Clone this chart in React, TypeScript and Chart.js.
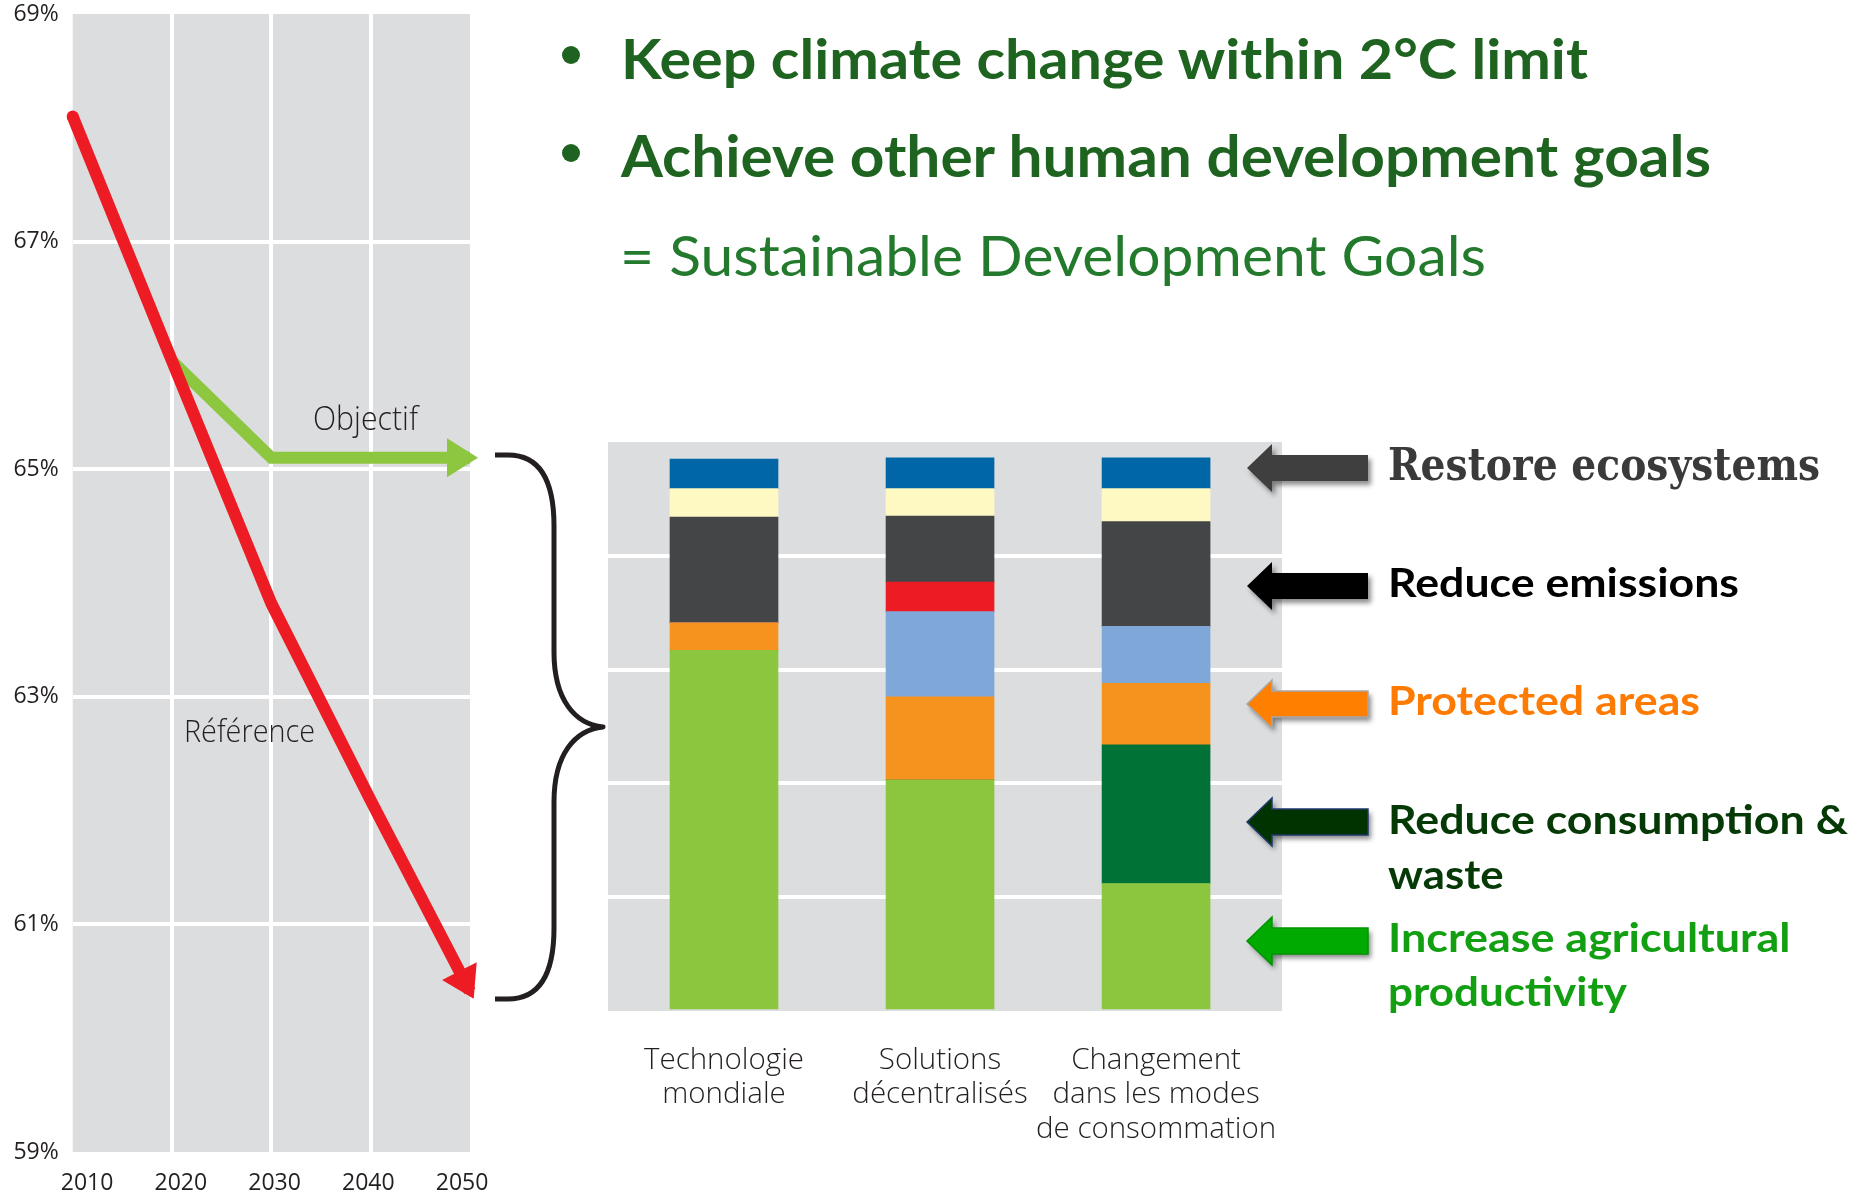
import React, { useEffect, useLayoutEffect, useRef } from 'react';
import { Chart, registerables } from 'chart.js';

Chart.register(...registerables);

// ---------- Left line chart data ----------
const years = [2010, 2020, 2030, 2040, 2050];
const referenceShare = [68.1, 65.95, 63.82, 62.09, 60.41];
const objectifShare: (number | null)[] = [null, 65.95, 65.1, 65.1, 65.1];
const lineYMin = 59;
const lineYMax = 69;
const lineYStep = 2;
const lineSeriesNames = ['Référence', 'Objectif'];
// the printed year labels sit on a slightly wider scale than the plotted grid
const yearLabelMin = 2008.47;
const yearLabelMax = 2050.85;

// ---------- Right stacked bar data ----------
const scenarioLabels = [
  ['Technologie', 'mondiale'],
  ['Solutions', 'décentralisés'],
  ['Changement', 'dans les modes', 'de consommation'],
];
const agriculturalProductivity = [3.17, 2.03, 1.12];
const consumptionWaste = [0, 0, 1.22];
const protectedAreas = [0.24, 0.73, 0.54];
const lightBlueSegment = [0, 0.75, 0.5];
const redSegment = [0, 0.26, 0];
const emissionsSegment = [0.93, 0.58, 0.92];
const creamSegment = [0.25, 0.24, 0.29];
const restoreEcosystems = [0.26, 0.27, 0.27];
const barYMax = 5;

const RED = '#ED1C24';
const GREEN = '#8DC63F';
const BG = '#DCDDDF';
const TICK = '#231F20';
const OPEN = "'Open Sans', 'Noto Sans', sans-serif";
const LATO = "Lato, 'Open Sans', sans-serif";
const HEAD = '#1E6420';
const HEAD2 = '#237A2D';

const barSeries = [
  { label: 'Increase agricultural productivity', values: agriculturalProductivity, color: '#8CC63F' },
  { label: 'Reduce consumption & waste', values: consumptionWaste, color: '#007236' },
  { label: 'Protected areas', values: protectedAreas, color: '#F6921E' },
  { label: 'Light blue', values: lightBlueSegment, color: '#7FA7D7' },
  { label: 'Red', values: redSegment, color: '#ED1C24' },
  { label: 'Reduce emissions', values: emissionsSegment, color: '#444547' },
  { label: 'Cream', values: creamSegment, color: '#FEF9C3' },
  { label: 'Restore ecosystems', values: restoreEcosystems, color: '#0066A6' },
];

type TextSpec = {
  text: string; x: number; baseline: number; cap: number; width: number;
  family: string; weight: number; color: string;
};

const texts: TextSpec[] = [
  { text: 'Keep climate change within 2°C limit', x: 621, baseline: 79.3, cap: 41, width: 967, family: LATO, weight: 700, color: HEAD },
  { text: 'Achieve other human development goals', x: 620.5, baseline: 176.7, cap: 41.5, width: 1090, family: LATO, weight: 700, color: HEAD },
  { text: '= Sustainable Development Goals', x: 620, baseline: 276, cap: 41, width: 866, family: LATO, weight: 400, color: HEAD2 },
  { text: lineSeriesNames[1], x: 313, baseline: 430, cap: 23, width: 105, family: OPEN, weight: 300, color: TICK },
  { text: lineSeriesNames[0], x: 184, baseline: 741.7, cap: 22.4, width: 131, family: OPEN, weight: 300, color: TICK },
  { text: 'Restore ecosystems', x: 1388, baseline: 480, cap: 32, width: 432, family: "'DejaVu Serif', serif", weight: 700, color: '#3A3A3A' },
  { text: 'Reduce emissions', x: 1388, baseline: 597, cap: 28.7, width: 351, family: LATO, weight: 700, color: '#000000' },
  { text: 'Protected areas', x: 1388, baseline: 715, cap: 28.7, width: 312, family: LATO, weight: 700, color: '#FF7A00' },
  { text: 'Reduce consumption &', x: 1388, baseline: 833.7, cap: 28.7, width: 460, family: LATO, weight: 700, color: '#053A07' },
  { text: 'waste', x: 1388, baseline: 889, cap: 28.7, width: 115.6, family: LATO, weight: 700, color: '#053A07' },
  { text: 'Increase agricultural', x: 1388, baseline: 952, cap: 28.7, width: 402.5, family: LATO, weight: 700, color: '#12A012' },
  { text: 'productivity', x: 1388, baseline: 1006, cap: 28.7, width: 239, family: LATO, weight: 700, color: '#12A012' },
];

const capCache: Record<string, number> = {};
function capRatio(family: string, weight: number): number {
  const key = weight + '|' + family;
  if (capCache[key]) return capCache[key];
  const c = document.createElement('canvas').getContext('2d')!;
  c.font = `${weight} 100px ${family}`;
  const m = c.measureText('H');
  const r = m.actualBoundingBoxAscent / 100 || 0.72;
  capCache[key] = r;
  return r;
}

function FitText({ spec }: { spec: TextSpec }) {
  const boxRef = useRef<HTMLDivElement>(null);
  const textRef = useRef<HTMLSpanElement>(null);
  const probeRef = useRef<HTMLSpanElement>(null);
  useLayoutEffect(() => {
    const box = boxRef.current!;
    const t = textRef.current!;
    const p = probeRef.current!;
    const size = spec.cap / capRatio(spec.family, spec.weight);
    box.style.fontSize = size + 'px';
    box.style.transform = 'none';
    const w = t.getBoundingClientRect().width;
    const b = p.offsetTop;
    box.style.top = spec.baseline - b + 'px';
    box.style.transform = `scaleX(${spec.width / w})`;
  }, [spec]);
  return (
    <div
      ref={boxRef}
      style={{
        position: 'absolute', left: spec.x, top: 0, whiteSpace: 'nowrap', lineHeight: 1.2,
        fontFamily: spec.family, fontWeight: spec.weight, color: spec.color, transformOrigin: '0 0',
      }}
    >
      <span ref={textRef}>{spec.text}</span>
      <span ref={probeRef} style={{ display: 'inline-block', width: 0, height: 0, verticalAlign: 'baseline' }} />
    </div>
  );
}

const chartBgPlugin = {
  id: 'chartBg',
  beforeDraw(chart: any) {
    const { ctx, chartArea } = chart;
    ctx.save();
    ctx.fillStyle = BG;
    ctx.fillRect(chartArea.left, chartArea.top, chartArea.right - chartArea.left, chartArea.bottom - chartArea.top);
    ctx.restore();
  },
};

const arrowHeadPlugin = {
  id: 'arrowHeads',
  afterDatasetsDraw(chart: any) {
    const ctx = chart.ctx;
    chart.data.datasets.forEach((ds: any, i: number) => {
      const pts = chart.getDatasetMeta(i).data;
      if (pts.length < 2) return;
      const a = pts[pts.length - 2];
      const b = pts[pts.length - 1];
      const dx = b.x - a.x;
      const dy = b.y - a.y;
      const len = Math.hypot(dx, dy);
      const ux = dx / len;
      const uy = dy / len;
      const tipX = b.x + ux * 8;
      const tipY = b.y + uy * 8;
      const L = 31;
      const W = 19.5;
      const bx = tipX - ux * L;
      const by = tipY - uy * L;
      ctx.save();
      ctx.fillStyle = ds.borderColor;
      ctx.beginPath();
      ctx.moveTo(tipX, tipY);
      ctx.lineTo(bx - uy * W, by + ux * W);
      ctx.lineTo(bx + uy * W, by - ux * W);
      ctx.closePath();
      ctx.fill();
      ctx.restore();
    });
  },
};

function edgeGrid(min: number, max: number) {
  return (ctx: any) => {
    const v = ctx.tick ? ctx.tick.value : null;
    return v === min || v === max ? 'rgba(0,0,0,0)' : '#FFFFFF';
  };
}

function lineConfig(): any {
  return {
    type: 'line',
    data: {
      datasets: [
        {
          label: lineSeriesNames[0],
          data: years.map((x, i) => ({ x, y: referenceShare[i] })),
          borderColor: RED,
          backgroundColor: RED,
          borderWidth: 12,
          borderCapStyle: 'butt',
          borderJoinStyle: 'round',
          tension: 0,
          pointRadius: (c: any) => (c.dataIndex === 0 ? 6 : 0),
          pointBorderWidth: 0,
          pointBackgroundColor: RED,
          pointHoverRadius: 0,
          clip: false,
        },
        {
          label: lineSeriesNames[1],
          data: years
            .map((x, i) => ({ x, y: objectifShare[i] }))
            .filter((p) => p.y !== null),
          borderColor: GREEN,
          backgroundColor: GREEN,
          borderWidth: 12,
          borderCapStyle: 'butt',
          borderJoinStyle: 'miter',
          tension: 0,
          pointRadius: 0,
          pointHoverRadius: 0,
          clip: false,
        },
      ],
    },
    options: {
      responsive: false,
      maintainAspectRatio: false,
      animation: false,
      devicePixelRatio: 1,
      events: [],
      layout: { padding: { left: 0, top: 14, right: 50, bottom: 0 } },
      plugins: { legend: { display: false }, tooltip: { enabled: false }, title: { display: false } },
      scales: {
        x: {
          type: 'linear',
          position: 'bottom',
          min: years[0],
          max: years[years.length - 1],
          offset: false,
          afterFit: (s: any) => { s.height = 0; s.paddingLeft = 0; s.paddingRight = 0; },
          border: { display: false },
          grid: { color: edgeGrid(years[0], years[years.length - 1]), lineWidth: 4, drawTicks: false },
          ticks: { stepSize: 10, display: false },
        },
        xYears: {
          type: 'linear',
          position: 'bottom',
          min: yearLabelMin,
          max: yearLabelMax,
          offset: false,
          afterBuildTicks: (s: any) => { s.ticks = years.map((v) => ({ value: v })); },
          afterFit: (s: any) => { s.height = 43; s.paddingLeft = 0; s.paddingRight = 0; },
          border: { display: false },
          grid: { display: false, drawTicks: false },
          ticks: {
            callback: (v: any) => String(v),
            padding: 18,
            maxRotation: 0,
            autoSkip: false,
            color: TICK,
            font: { family: OPEN, size: 23, weight: 400 },
          },
        },
        y: {
          type: 'linear',
          min: lineYMin,
          max: lineYMax,
          afterFit: (s: any) => { s.width = 72.7; s.paddingTop = 0; s.paddingBottom = 0; },
          border: { display: false },
          grid: { color: edgeGrid(lineYMin, lineYMax), lineWidth: 4, drawTicks: false },
          ticks: {
            stepSize: lineYStep,
            callback: (v: any) => v + '%',
            padding: 14,
            labelOffset: 0,
            color: TICK,
            font: { family: OPEN, size: 23, weight: 400 },
          },
        },
      },
    },
    plugins: [chartBgPlugin, arrowHeadPlugin],
  };
}

function barConfig(): any {
  return {
    type: 'bar',
    data: {
      datasets: barSeries.map((s) => ({
        label: s.label,
        data: s.values.map((y, i) => ({ x: i, y })),
        backgroundColor: s.color,
        borderWidth: 0,
        barThickness: 108,
      })),
    },
    options: {
      responsive: false,
      maintainAspectRatio: false,
      animation: false,
      devicePixelRatio: 1,
      events: [],
      layout: { padding: { left: 48, top: 42, right: 38, bottom: 0 } },
      plugins: { legend: { display: false }, tooltip: { enabled: false }, title: { display: false } },
      scales: {
        x: {
          type: 'linear',
          stacked: true,
          offset: false,
          min: -0.537,
          max: 2.583,
          afterFit: (s: any) => { s.height = 169; s.paddingLeft = 0; s.paddingRight = 0; },
          afterBuildTicks: (s: any) => { s.ticks = scenarioLabels.map((_, i) => ({ value: i })); },
          border: { display: false },
          grid: { display: false, drawTicks: false },
          ticks: {
            callback: (v: any) => scenarioLabels[Math.round(v)] || '',
            padding: 32.5,
            maxRotation: 0,
            minRotation: 0,
            autoSkip: false,
            color: TICK,
            font: { family: OPEN, size: 29.5, weight: 300, lineHeight: 1.163 },
          },
        },
        y: {
          type: 'linear',
          stacked: true,
          min: 0,
          max: barYMax,
          afterFit: (s: any) => { s.width = 0; s.paddingTop = 0; s.paddingBottom = 0; },
          border: { display: false },
          grid: { color: edgeGrid(0, barYMax), lineWidth: 4, drawTicks: false },
          ticks: { display: false, stepSize: 1 },
        },
      },
    },
    plugins: [chartBgPlugin],
  };
}

const goalArrows = [
  { cy: 468, fill: '#3F3F3F', stroke: null },
  { cy: 586, fill: '#000000', stroke: null },
  { cy: 704, fill: '#FF7F00', stroke: '#A8A8A8' },
  { cy: 822, fill: '#003300', stroke: '#1F3A6E' },
  { cy: 941, fill: '#00AA00', stroke: '#009400' },
];

function drawOverlay(ctx: CanvasRenderingContext2D) {
  ctx.clearRect(0, 0, 1865, 1195);
  // brace
  ctx.save();
  ctx.strokeStyle = '#231F20';
  ctx.lineWidth = 5;
  ctx.lineJoin = 'round';
  ctx.beginPath();
  ctx.moveTo(495, 455);
  ctx.lineTo(508, 455);
  ctx.bezierCurveTo(540, 455, 554, 480, 554, 526);
  ctx.lineTo(554, 652);
  ctx.bezierCurveTo(554, 700, 575, 724, 603, 727);
  ctx.bezierCurveTo(575, 730, 554, 754, 554, 802);
  ctx.lineTo(554, 928);
  ctx.bezierCurveTo(554, 974, 540, 999, 508, 999);
  ctx.lineTo(495, 999);
  ctx.stroke();
  ctx.restore();

  // goal arrows
  goalArrows.forEach((a) => {
    const c = a.cy;
    const path = () => {
      ctx.beginPath();
      ctx.moveTo(1247, c);
      ctx.lineTo(1272, c - 24);
      ctx.lineTo(1272, c - 13);
      ctx.lineTo(1368, c - 13);
      ctx.lineTo(1368, c + 13);
      ctx.lineTo(1272, c + 13);
      ctx.lineTo(1272, c + 24);
      ctx.closePath();
    };
    ctx.save();
    ctx.shadowColor = 'rgba(0,0,0,0.45)';
    ctx.shadowBlur = 5;
    ctx.shadowOffsetX = 3;
    ctx.shadowOffsetY = 4;
    path();
    ctx.fillStyle = a.fill;
    ctx.fill();
    ctx.restore();
    if (a.stroke) {
      ctx.save();
      path();
      ctx.strokeStyle = a.stroke;
      ctx.lineWidth = 1.5;
      ctx.stroke();
      ctx.restore();
    }
  });
}

export default function App() {
  const lineRef = useRef<HTMLCanvasElement>(null);
  const barRef = useRef<HTMLCanvasElement>(null);
  const overlayRef = useRef<HTMLCanvasElement>(null);

  useEffect(() => {
    const line = new Chart(lineRef.current!, lineConfig());
    const bar = new Chart(barRef.current!, barConfig());
    const octx = overlayRef.current!.getContext('2d');
    if (octx) drawOverlay(octx);
    return () => {
      line.destroy();
      bar.destroy();
    };
  }, []);

  return (
    <div style={{ position: 'absolute', left: 0, top: 0, width: 1865, height: 1195, overflow: 'hidden', background: '#FFFFFF' }}>
      <canvas ref={lineRef} width={520} height={1195} style={{ position: 'absolute', left: 0, top: 0, width: 520, height: 1195 }} />
      <canvas ref={barRef} width={760} height={780} style={{ position: 'absolute', left: 560, top: 400, width: 760, height: 780 }} />
      <canvas ref={overlayRef} width={1865} height={1195} style={{ position: 'absolute', left: 0, top: 0, width: 1865, height: 1195, pointerEvents: 'none' }} />
      <div style={{ position: 'absolute', left: 562, top: 46, width: 18, height: 18, borderRadius: 9, background: HEAD }} />
      <div style={{ position: 'absolute', left: 562, top: 144, width: 18, height: 18, borderRadius: 9, background: HEAD }} />
      {texts.map((t, i) => (
        <FitText key={i} spec={t} />
      ))}
    </div>
  );
}
